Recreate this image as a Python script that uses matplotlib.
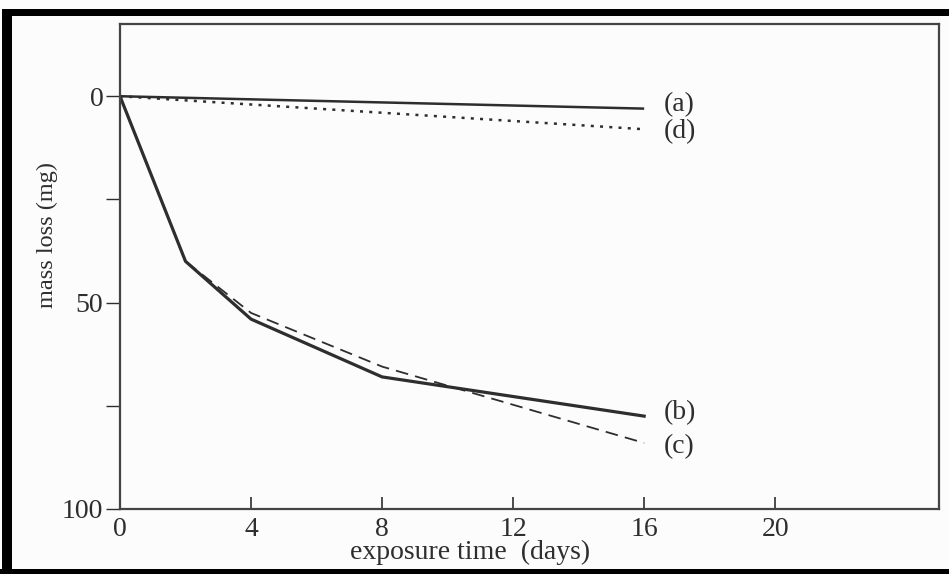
import matplotlib
matplotlib.use("Agg")
import matplotlib.pyplot as plt
from matplotlib.patches import Rectangle

# Data (mass loss in mg vs exposure time in days)
days_ad = [0, 16]
loss_a = [0, 3]
loss_d = [0, 8]
days_bc = [0, 2, 4, 8, 16]
loss_b = [0, 40, 54, 68, 77.5]
loss_c = [0, 40, 52.5, 65.5, 84]
curve_names = ["(a)", "(d)", "(b)", "(c)"]
x_ticks = [0, 4, 8, 12, 16, 20]
y_ticks = [0, 25, 50, 75, 100]
y_ticklabels = ["0", "", "50", "", "100"]

plt.rcParams['font.family'] = ['Liberation Serif', 'DejaVu Serif']
W, H = 949, 574
fig = plt.figure(figsize=(W / 100, H / 100), dpi=100)
fig.patch.set_facecolor('#fdfcfd')

ax = fig.add_axes([120 / W, (H - 509) / H, (939 - 120) / W, (509 - 24) / H])
ax.set_facecolor('#fdfcfd')
ink = '#2e2e2e'

ax.plot(days_ad, loss_a, color=ink, lw=1.8, solid_capstyle='butt')
ax.plot(days_ad, loss_d, color=ink, lw=1.8, linestyle=(0, (1.2, 2.5)))
ax.plot(days_bc, loss_c, color=ink, lw=1.3, linestyle=(0, (7, 4)))
ax.plot(days_bc, loss_b, color=ink, lw=2.3, solid_joinstyle='miter')

label_y = [loss_a[-1] - 1.0, loss_d[-1] + 0.5, loss_b[-1] - 0.8, loss_c[-1] + 0.8]
for name, yy in zip(curve_names, label_y):
    ax.text(16.6, yy, name, fontsize=20, color=ink, va='center', ha='left')

ax.set_xlim(0, 25)
ax.set_ylim(100, -17.5)
ax.set_xticks(x_ticks)
ax.set_xticklabels([str(t) for t in x_ticks])
ax.set_yticks(y_ticks)
ax.set_yticklabels(y_ticklabels)
ax.tick_params(axis='x', direction='in', length=9, width=1.2, colors=ink,
               labelsize=20, pad=6)
ax.tick_params(axis='y', direction='out', length=10, width=1.0, colors=ink,
               labelsize=20, pad=2)
for s in ax.spines.values():
    s.set_color('#444444')
    s.set_linewidth(1.6)

ax.set_xlabel("exposure time  (days)", fontsize=20, color=ink)
ax.xaxis.set_label_coords(0.427, -0.064)
ax.set_ylabel("mass loss (mg)", fontsize=17.5, color=ink)
ax.yaxis.set_label_coords(-0.076, 0.565)

# black scan frame
fig.add_artist(Rectangle((2 / W, 0), 10 / W, 1 - 9 / H, transform=fig.transFigure,
                         color='black', lw=0))
fig.add_artist(Rectangle((2 / W, 1 - 16 / H), 1, 7 / H, transform=fig.transFigure,
                         color='black', lw=0))
fig.add_artist(Rectangle((0, 0), 1, 5 / H, transform=fig.transFigure,
                         color='black', lw=0))

fig.savefig("out.png", dpi=100, facecolor=fig.get_facecolor())
